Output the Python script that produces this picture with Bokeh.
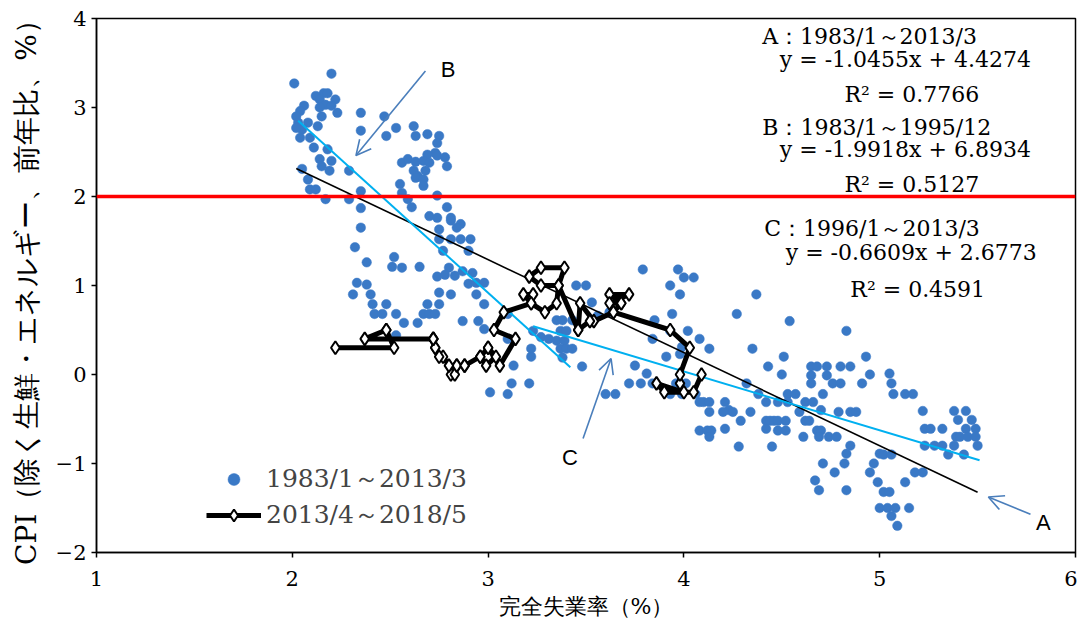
from bokeh.plotting import figure
from bokeh.models import (Range1d, FixedTicker, Arrow, OpenHead, Legend, LegendItem,
                          Label, ColumnDataSource, Span)
from bokeh.embed import file_html
from bokeh.resources import INLINE

# ---------------- data ----------------
X_TICKS = [1, 2, 3, 4, 5, 6]
Y_TICKS = [-2, -1, 0, 1, 2, 3, 4]

SERIES1_LABEL = "1983/1～2013/3"
SERIES2_LABEL = "2013/4～2018/5"
X_LABEL = "完全失業率（%）"
Y_LABEL = "CPI（除く生鮮・エネルギー、前年比、%）"

# 1983/1-2013/3 monthly points (unemployment %, CPI y/y %)
unemp_8313 = [
    2.01, 2.20, 2.12, 2.16, 2.18, 2.22, 2.14, 2.17, 2.20, 2.23, 2.14, 2.15, 2.06, 2.04, 2.02, 2.03,
    2.05, 2.02, 2.04, 2.08, 2.09, 2.13, 2.11, 2.18, 2.14, 2.20, 2.15, 2.19, 2.29, 2.05, 2.08, 2.09,
    2.12, 2.17, 2.29, 2.35, 2.35, 2.35, 2.35, 2.47, 2.48, 2.53, 2.62, 2.63, 2.69, 2.75, 2.74, 2.73,
    2.69, 2.74, 2.56, 2.59, 2.63, 2.67, 2.70, 2.78, 2.79, 2.62, 2.64, 2.68, 2.63, 2.67, 2.55, 2.56,
    2.59, 2.61, 2.67, 2.74, 2.79, 2.70, 2.74, 2.81, 2.81, 2.86,
    2.35, 2.75, 2.84, 2.75, 2.81, 2.86, 2.91, 2.77, 2.90, 2.32, 2.38, 2.52, 2.51, 2.56, 2.65, 2.80,
    2.74, 2.78, 2.83, 2.87, 2.92, 2.90, 2.94, 2.98, 2.33, 2.38, 2.31, 2.40, 2.75, 2.81, 2.94, 2.41,
    2.48, 2.69, 2.75, 2.98, 2.42, 2.46, 2.53, 2.67, 2.70, 2.73, 2.57, 2.64, 2.87, 2.95, 2.98, 2.53,
    3.10, 3.22, 3.22, 3.13, 3.12, 3.21, 3.01, 3.10, 3.10, 3.23, 3.27, 3.31, 3.35, 3.39, 3.35, 3.38,
    3.43, 3.37, 3.40, 3.37, 3.40, 3.43, 3.38, 3.45, 3.50, 3.53, 3.56, 3.62, 3.48, 3.75, 3.79, 3.97,
    4.00, 4.05, 3.93, 3.98, 3.94, 3.85, 3.93, 4.02, 3.84, 3.99, 4.08, 3.91, 3.81, 3.78, 3.72, 3.60,
    3.65, 3.84, 3.93, 3.99, 3.96, 4.01, 4.08, 4.13, 3.98, 4.06,
    4.37, 4.27, 4.54, 4.83, 4.35, 4.51, 4.93, 4.43, 4.65, 4.68, 4.73, 4.80, 4.85, 4.50, 4.65, 4.73,
    4.95, 4.76, 4.80, 4.65, 4.91, 4.32, 4.38, 4.53, 4.57, 4.71, 4.62, 4.66, 4.42, 4.48, 4.53, 4.59,
    4.70, 4.79, 4.85, 4.88, 4.10, 4.13, 4.21, 4.23, 4.25, 4.20, 4.34, 4.13, 4.29, 4.42, 4.44, 4.46,
    4.48, 4.52, 4.62, 4.64, 4.68, 4.70, 4.08, 4.12, 4.14, 4.21, 4.42, 4.48, 4.52, 4.61, 4.69, 4.74,
    4.78, 4.13, 4.28, 4.45, 4.85, 4.83, 4.71, 4.82, 4.77, 4.97, 4.95, 4.67, 5.00, 4.69, 4.83,
    5.05, 5.06, 5.07, 5.13, 5.17, 5.22, 5.38, 5.44, 5.40, 5.47, 5.23, 5.26, 5.32, 5.44, 5.49, 5.39,
    5.41, 5.45, 5.49, 5.23, 5.28, 5.32, 5.38, 5.50, 5.35, 5.43, 5.02, 5.06, 4.99, 5.02, 5.05, 5.13,
    5.18, 5.22, 5.00, 5.04, 5.08, 5.15, 5.06, 5.09,
]
cpi_8313 = [
    3.27, 3.38, 3.13, 3.16, 3.16, 3.09, 3.09, 3.03, 3.02, 2.94, 3.00, 2.90, 3.02, 2.96, 2.90, 2.83,
    2.75, 2.77, 2.66, 2.83, 2.66, 2.79, 2.55, 2.53, 2.42, 2.40, 2.34, 2.29, 2.29, 2.31, 2.19, 2.08,
    2.08, 1.97, 1.97, 2.06, 1.87, 2.94, 2.74, 2.90, 2.68, 2.77, 2.79, 2.68, 2.70, 2.68, 2.60, 2.49,
    2.47, 2.46, 2.38, 2.42, 2.39, 2.40, 2.38, 2.44, 2.34, 2.29, 2.23, 2.29, 2.21, 2.19, 2.14, 2.04,
    1.97, 1.88, 2.12, 2.01, 1.88, 1.78, 1.76, 1.76, 1.73, 1.69,
    1.65, 1.63, 1.65, 1.52, 1.52, 1.52, 1.52, 1.39, 1.39, 1.43, 1.26, 1.32, 1.21, 1.20, 1.21, 1.20,
    1.10, 1.12, 1.11, 1.16, 1.14, 1.02, 1.03, 1.03, 1.03, 1.01, 0.90, 0.90, 0.92, 0.90, 0.90, 0.79,
    0.79, 0.79, 0.79, 0.79, 0.68, 0.68, 0.68, 0.68, 0.68, 0.68, 0.58, 0.58, 0.60, 0.60, 0.51, 0.44,
    0.40, 0.29, 0.20, 0.10, -0.10, -0.10, -0.20, -0.22, 0.68, 0.49, 0.42, 0.40, 0.38, 0.38, 0.61, 0.61,
    0.61, 0.49, 0.49, 0.29, 0.29, 0.29, 0.19, 1.00, 1.00, 0.81, 0.66, 0.70, 0.09, 0.10, 1.18, 1.18,
    1.09, 1.09, 1.00, 0.90, 0.68, 0.61, 0.49, 0.49, 0.40, 0.31, 0.40, 0.20, 0.01, -0.10, -0.10, -0.22,
    -0.22, -0.10, -0.22, -0.22, -0.10, -0.10, -0.31, 0.29, 0.23, -0.22,
    0.90, 0.68, 0.60, 0.49, 0.29, 0.20, 0.20, 0.09, 0.09, 0.09, 0.09, 0.09, 0.09, 0.00, -0.01, -0.01,
    0.00, -0.10, -0.10, -0.10, -0.10, -0.10, -0.22, -0.22, -0.22, -0.22, -0.31, -0.31, -0.31, -0.31, -0.31, -0.42,
    -0.40, -0.42, -0.42, -0.42, -0.31, -0.31, -0.31, -0.40, -0.42, -0.42, -0.42, -0.42, -0.52, -0.52, -0.52, -0.52,
    -0.52, -0.52, -0.52, -0.52, -0.63, -0.63, -0.63, -0.63, -0.63, -0.61, -0.61, -0.63, -0.63, -0.70, -0.70, -0.70,
    -0.70, -0.70, -0.81, -0.81, -0.80, -0.89, -1.00, -1.00, -1.10, -1.00, -1.10, -1.19, -0.89, -1.30, -1.30,
    0.01, -0.10, -0.22, -0.22, -0.22, -0.41, -0.41, -0.41, -0.51, -0.51, -0.61, -0.61, -0.61, -0.61, -0.61, -0.70,
    -0.70, -0.70, -0.70, -0.80, -0.80, -0.80, -0.80, -0.80, -0.90, -0.90, -0.90, -0.90, -1.21, -1.32, -1.32, -1.21,
    -1.10, -1.10, -1.50, -1.50, -1.50, -1.50, -1.59, -1.70,
]

# 2013/4-2018/5 monthly path
unemp_1318 = [
    4.09, 4.05, 3.90, 3.86, 4.00, 3.98, 3.98, 4.03, 3.93,
    3.64, 3.68, 3.62, 3.72, 3.62, 3.68, 3.64, 3.54, 3.47, 3.46, 3.52, 3.46,
    3.36, 3.39, 3.27, 3.21, 3.27, 3.36, 3.35, 3.29, 3.22, 3.18, 3.23, 3.22,
    3.08, 3.03, 3.14, 3.06, 3.00, 3.04, 2.99, 2.96, 3.00, 2.96, 2.88, 2.84,
    2.81, 2.83, 2.84, 2.88, 2.80, 2.77, 2.75, 2.73, 2.72, 2.73, 2.72, 2.72,
    2.37, 2.48, 2.48, 2.52, 2.22,
]
cpi_1318 = [
    0.0, -0.2, -0.2, -0.1, -0.2, -0.1, 0.0, 0.3, 0.5,
    0.7, 0.8, 0.9, 0.9, 0.8, 0.8, 0.7, 0.6, 0.8, 0.5, 0.6, 0.5,
    1.0, 1.2, 1.2, 1.1, 1.0, 1.0, 0.8, 0.7, 0.8, 0.9, 0.9, 0.8,
    0.7, 0.5, 0.4, 0.1, 0.3, 0.2, 0.1, 0.2, 0.3, 0.2, 0.1, 0.1,
    0.0, 0.0, 0.1, 0.1, 0.1, 0.2, 0.2, 0.3, 0.4, 0.3, 0.4, 0.4,
    0.4, 0.5, 0.5, 0.3, 0.3,
]

# regression lines: (slope, intercept, x_min, x_max)
FIT_A = (-1.0455, 4.4274, 2.02, 5.50)
FIT_B = (-1.9918, 6.8934, 2.03, 3.42)
FIT_C = (-0.6609, 2.6773, 3.23, 5.51)

EQ_TEXTS = [
    "A：1983/1～2013/3", "y = -1.0455x + 4.4274", "R² = 0.7766",
    "B：1983/1～1995/12", "y = -1.9918x + 6.8934", "R² = 0.5127",
    "C：1996/1～2013/3", "y = -0.6609x + 2.6773", "R² = 0.4591",
]

# ---------------- styles / layout ----------------
DOT_COLOR = "#3A79C6"
CYAN = "#00B0F0"
ARROW_COLOR = "#4A7EBB"
SERIF = "DejaVu Serif"

EQ_X = [4.40, 4.49, 4.82, 4.40, 4.49, 4.82, 4.41, 4.52, 4.85]
EQ_Y = [3.80, 3.54, 3.15, 2.77, 2.53, 2.14, 1.64, 1.37, 0.96]

p = figure(width=1077, height=621, x_range=Range1d(1, 6), y_range=Range1d(-2, 4),
           output_backend="svg", toolbar_location=None,
           min_border_left=96, min_border_right=2, min_border_top=18, min_border_bottom=68)
p.xgrid.visible = False
p.ygrid.visible = False
p.outline_line_color = "black"
p.outline_line_width = 1.5
p.outline_line_alpha = 1.0
p.background_fill_color = "white"

for ax, ticks in ((p.xaxis, X_TICKS), (p.yaxis, Y_TICKS)):
    ax.ticker = FixedTicker(ticks=ticks)
    ax.minor_tick_line_color = None
    ax.major_tick_in = 0
    ax.major_tick_out = 5
    ax.major_tick_line_color = "black"
    ax.major_tick_line_width = 1.5
    ax.axis_line_color = "black"
    ax.axis_line_width = 1.5
    ax.major_label_text_font = SERIF
    ax.major_label_text_font_size = "21px"
    ax.major_label_text_color = "black"
    ax.axis_label_text_font = SERIF
    ax.axis_label_text_font_style = "normal"
    ax.axis_label_text_color = "black"

p.xaxis.axis_label = X_LABEL
p.xaxis.axis_label_text_font_size = "22px"
p.xaxis.major_label_standoff = 13
p.xaxis.axis_label_standoff = 5
p.yaxis.axis_label = Y_LABEL
p.yaxis.axis_label_text_font_size = "28px"
p.yaxis.major_label_standoff = 5
p.yaxis.axis_label_standoff = 10

# scatter
src1 = ColumnDataSource(dict(x=unemp_8313, y=cpi_8313))
r_dots = p.scatter("x", "y", source=src1, size=9.5, fill_color=DOT_COLOR, line_color=DOT_COLOR,
                   line_width=0.5)

# regression lines
for (m, b, x0, x1), col, w in ((FIT_A, "black", 1.6), (FIT_B, CYAN, 2.0), (FIT_C, CYAN, 2.0)):
    p.line([x0, x1], [m * x0 + b, m * x1 + b], line_color=col, line_width=w)

# 2% line
p.add_layout(Span(location=2, dimension="width", line_color="#FF0000", line_width=3.5))

# 2013-2018 path
src2 = ColumnDataSource(dict(x=unemp_1318, y=cpi_1318))
r_line = p.line("x", "y", source=src2, line_color="black", line_width=5, line_join="round")
r_dia = p.scatter("x", "y", source=src2, marker="diamond", size=13, fill_color="white",
                  line_color="black", line_width=2)

# equations
for t, x, y in zip(EQ_TEXTS, EQ_X, EQ_Y):
    p.add_layout(Label(x=x, y=y, text=t, text_font=SERIF, text_font_size="22px",
                       text_align="left", text_baseline="middle", text_color="black"))

# arrows and letters
ARROWS = [  # (x_start, y_start, x_end, y_end)
    (2.68, 3.41, 2.325, 2.46),
    (3.485, -0.72, 3.628, 0.18),
    (5.77, -1.57, 5.555, -1.376),
]
LETTERS = [("B", 2.796, 3.43), ("C", 3.418, -0.93), ("A", 5.836, -1.66)]
for xs, ys, xe, ye in ARROWS:
    p.add_layout(Arrow(end=OpenHead(size=15, line_color=ARROW_COLOR, line_width=1.6),
                       x_start=xs, y_start=ys, x_end=xe, y_end=ye,
                       line_color=ARROW_COLOR, line_width=1.6))
for t, x, y in LETTERS:
    p.add_layout(Label(x=x, y=y, text=t, text_font="Liberation Sans", text_font_size="22px",
                       text_align="center", text_baseline="middle", text_color="black"))

legend = Legend(items=[LegendItem(label=SERIES1_LABEL, renderers=[r_dots]),
                       LegendItem(label=SERIES2_LABEL, renderers=[r_line, r_dia])],
                location=(110, 21), glyph_width=55, glyph_height=30, label_height=30,
                label_standoff=5, spacing=3, padding=0, margin=0,
                label_text_font=SERIF, label_text_font_size="25px",
                background_fill_alpha=0, border_line_alpha=0)
p.add_layout(legend)

open("out.html", "w").write(file_html(p, INLINE))
